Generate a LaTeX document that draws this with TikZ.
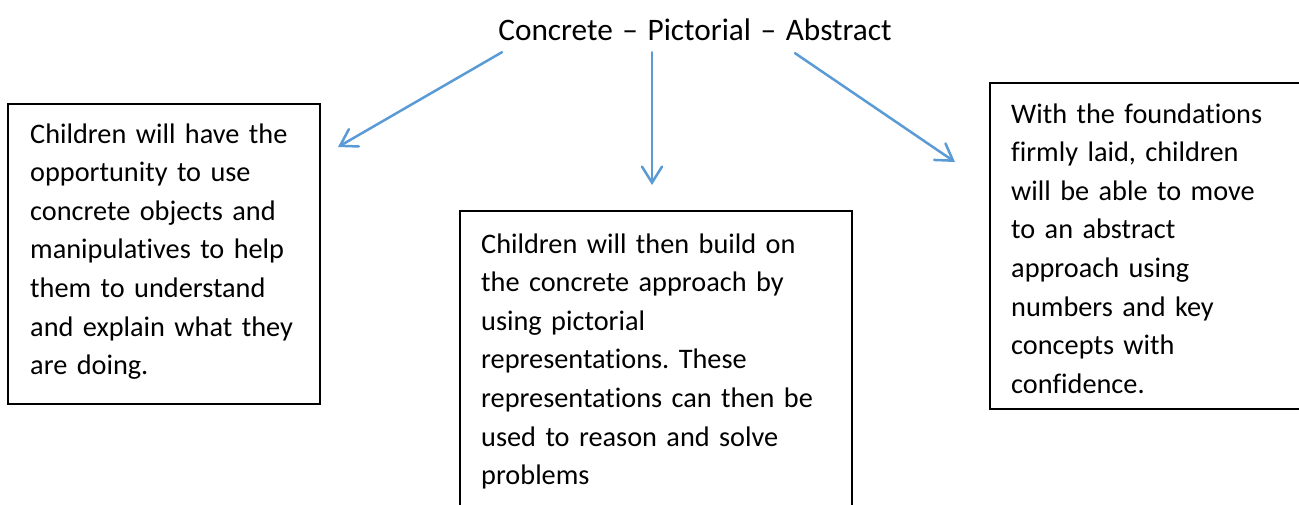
\documentclass[tikz,border=0pt]{standalone}
\usepackage{fontspec}
\setmainfont{Carlito}[Ligatures={TeX,NoCommon}]
\usetikzlibrary{arrows.meta}

\definecolor{linkblue}{HTML}{5B9BD5}

\tikzset{
  frame/.style={draw, line width=1.4pt, anchor=north west, inner sep=0pt, outer sep=0pt},
  blurb/.style={anchor=base west, inner sep=0pt, align=left, text width=#1,
    font=\fontsize{28.3}{38.6}\selectfont},
  link/.style={linkblue, line width=2.5pt, line cap=round,
    -{Straight Barb[length=16pt, width=20pt, line cap=round]}},
}
\newcommand{\dashsep}{\hspace{2.5pt}\textendash\hspace{2.5pt}}

\begin{document}
\frenchspacing
\begin{tikzpicture}[x=1pt, y=-1pt]
  \useasboundingbox (0,0) rectangle (1299,504);
  \clip (0,0) rectangle (1299,504);

  \node[font=\fontsize{31.3}{38.5}\selectfont, inner sep=0pt] (cpa) at (695,30)
    {Concrete \dashsep{} Pictorial \dashsep{} Abstract};

  % the three frames
  \node[frame, minimum width=312, minimum height=300] (concrete) at (8,104) {};
  \node[frame, minimum width=392, minimum height=330] (pictorial) at (460,211) {};
  \node[frame, minimum width=360, minimum height=326] (abstract) at (990,83) {};

  \node[blurb=300pt] (concretetext) at ([xshift=22pt, yshift=-39pt]concrete.north west)
    {Children will have the\\ opportunity to use\\ concrete objects and\\
     manipulatives to help\\ them to understand\\ and explain what they\\ are doing.};
  \node[blurb=380pt] (pictorialtext) at ([xshift=21pt, yshift=-42pt]pictorial.north west)
    {Children will then build on\\ the concrete approach by\\ using pictorial\\
     representations. These\\ representations can then be\\ used to reason and solve\\ problems};
  \node[blurb=300pt] (abstracttext) at ([xshift=21pt, yshift=-40pt]abstract.north west)
    {With the foundations\\ firmly laid, children\\ will be able to move\\
     to an abstract\\ approach using\\ numbers and key\\ concepts with\\ confidence.};

  % arrows down from the heading
  \coordinate (c1) at (338,147);
  \coordinate (p1) at (652,185);
  \coordinate (a1) at (955,162);
  \draw[link] ([xshift=-193pt, yshift=-11pt]cpa.south) -- (c1);
  \draw[link] ([xshift=-43pt, yshift=-11pt]cpa.south) -- (p1);
  \draw[link] ([xshift=100pt, yshift=-12pt]cpa.south) -- (a1);
\end{tikzpicture}
\end{document}
